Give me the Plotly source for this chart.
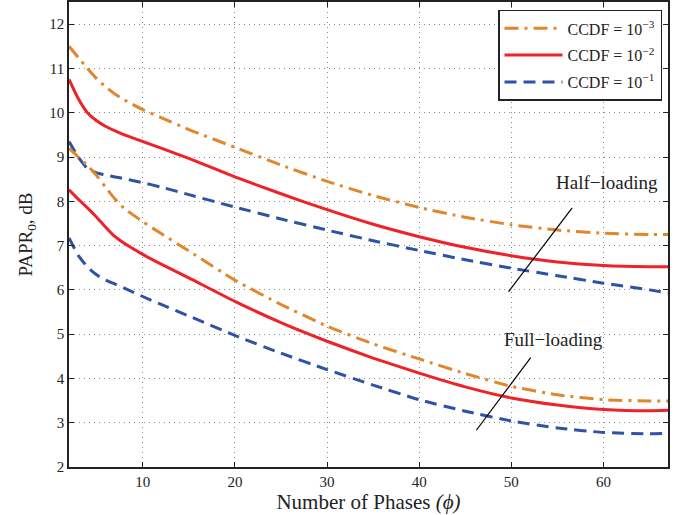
import plotly.graph_objects as go

phases = [2, 3, 4, 5, 6, 7, 8, 10, 12, 15, 20, 25, 30, 35, 40, 45, 50, 55, 60, 65, 67]

half_ccdf3 = [11.5, 11.25, 11.0, 10.77, 10.58, 10.42, 10.29, 10.07, 9.89, 9.62, 9.22, 8.82, 8.45, 8.13, 7.86, 7.64, 7.47, 7.35, 7.28, 7.25, 7.25]
half_ccdf2 = [10.75, 10.32, 10.0, 9.82, 9.69, 9.59, 9.5, 9.35, 9.2, 8.97, 8.55, 8.17, 7.81, 7.48, 7.2, 6.96, 6.77, 6.63, 6.55, 6.52, 6.52]
half_ccdf1 = [9.35, 9.0, 8.74, 8.64, 8.59, 8.55, 8.51, 8.42, 8.32, 8.15, 7.87, 7.6, 7.35, 7.11, 6.89, 6.68, 6.49, 6.32, 6.15, 6.0, 5.93]

full_ccdf3 = [9.2, 9.0, 8.81, 8.58, 8.31, 8.05, 7.84, 7.54, 7.27, 6.88, 6.22, 5.67, 5.18, 4.78, 4.44, 4.11, 3.82, 3.63, 3.52, 3.49, 3.49]
full_ccdf2 = [8.26, 8.05, 7.85, 7.64, 7.41, 7.2, 7.05, 6.8, 6.58, 6.27, 5.74, 5.26, 4.84, 4.46, 4.12, 3.81, 3.56, 3.4, 3.3, 3.27, 3.28]
full_ccdf1 = [7.17, 6.78, 6.52, 6.34, 6.22, 6.13, 6.04, 5.85, 5.67, 5.41, 4.97, 4.57, 4.2, 3.85, 3.52, 3.26, 3.04, 2.88, 2.78, 2.75, 2.76]

legend_names = ["CCDF = 10<sup>−3</sup>", "CCDF = 10<sup>−2</sup>", "CCDF = 10<sup>−1</sup>"]
colors = ["#E2862E", "#EE2228", "#2E52A6"]
dashes = ["14px,6px,3px,6px", "solid", "12px,7px"]

x_ticks = [10, 20, 30, 40, 50, 60]
y_ticks = [2, 3, 4, 5, 6, 7, 8, 9, 10, 11, 12]

FONT = "Liberation Serif"
TXT = "#222222"

fig = go.Figure()
half = [half_ccdf3, half_ccdf2, half_ccdf1]
full = [full_ccdf3, full_ccdf2, full_ccdf1]
for i in range(3):
    fig.add_trace(go.Scatter(x=phases, y=half[i], mode="lines", name=legend_names[i],
                             legendgroup="g%d" % i,
                             line=dict(color=colors[i], width=3, dash=dashes[i], shape="spline", smoothing=0.5),
                             showlegend=True))
for i in range(3):
    fig.add_trace(go.Scatter(x=phases, y=full[i], mode="lines", name=legend_names[i],
                             legendgroup="g%d" % i,
                             line=dict(color=colors[i], width=3, dash=dashes[i], shape="spline", smoothing=0.5),
                             showlegend=False))

# annotation lines and labels
fig.add_trace(go.Scatter(x=[49.7, 56.6], y=[5.96, 7.85], mode="lines",
                         line=dict(color="black", width=1.2), showlegend=False, hoverinfo="skip"))
fig.add_trace(go.Scatter(x=[46.2, 52.1], y=[2.83, 4.47], mode="lines",
                         line=dict(color="black", width=1.2), showlegend=False, hoverinfo="skip"))
fig.add_annotation(x=60.4, y=8.42, text="Half−loading", showarrow=False,
                   font=dict(family=FONT, size=19, color=TXT))
fig.add_annotation(x=54.6, y=4.87, text="Full−loading", showarrow=False,
                   font=dict(family=FONT, size=19, color=TXT))

axis_common = dict(showline=True, linecolor=TXT, linewidth=1.5, mirror="ticks",
                   ticks="inside", ticklen=5, tickcolor=TXT, automargin=False,
                   showgrid=True, gridcolor="#8a8a8a", griddash="1px,4px", gridwidth=1,
                   zeroline=False, tickfont=dict(family=FONT, size=15, color=TXT))

fig.update_xaxes(range=[2, 67], tickvals=x_ticks,
                 title=dict(text="Number of Phases <i>(ϕ)</i>", font=dict(family=FONT, size=21, color=TXT), standoff=2),
                 **axis_common)
fig.update_yaxes(range=[2, 12.5], tickvals=y_ticks,
                 title=dict(text="PAPR<sub>0</sub>, dB", font=dict(family=FONT, size=19, color=TXT), standoff=12),
                 **axis_common)

fig.update_layout(
    width=691, height=515,
    margin=dict(l=69, r=23, t=2, b=48),
    paper_bgcolor="white", plot_bgcolor="white",
    font=dict(family=FONT, color=TXT),
    legend=dict(x=0.99, y=0.983, xanchor="right", yanchor="top",
                bgcolor="white", bordercolor=TXT, borderwidth=1.5,
                font=dict(family=FONT, size=16, color=TXT),
                itemwidth=58, tracegroupgap=3),
)

fig.write_html("out.html", config={"displayModeBar": False},
               post_script="document.body.style.margin='0';")
